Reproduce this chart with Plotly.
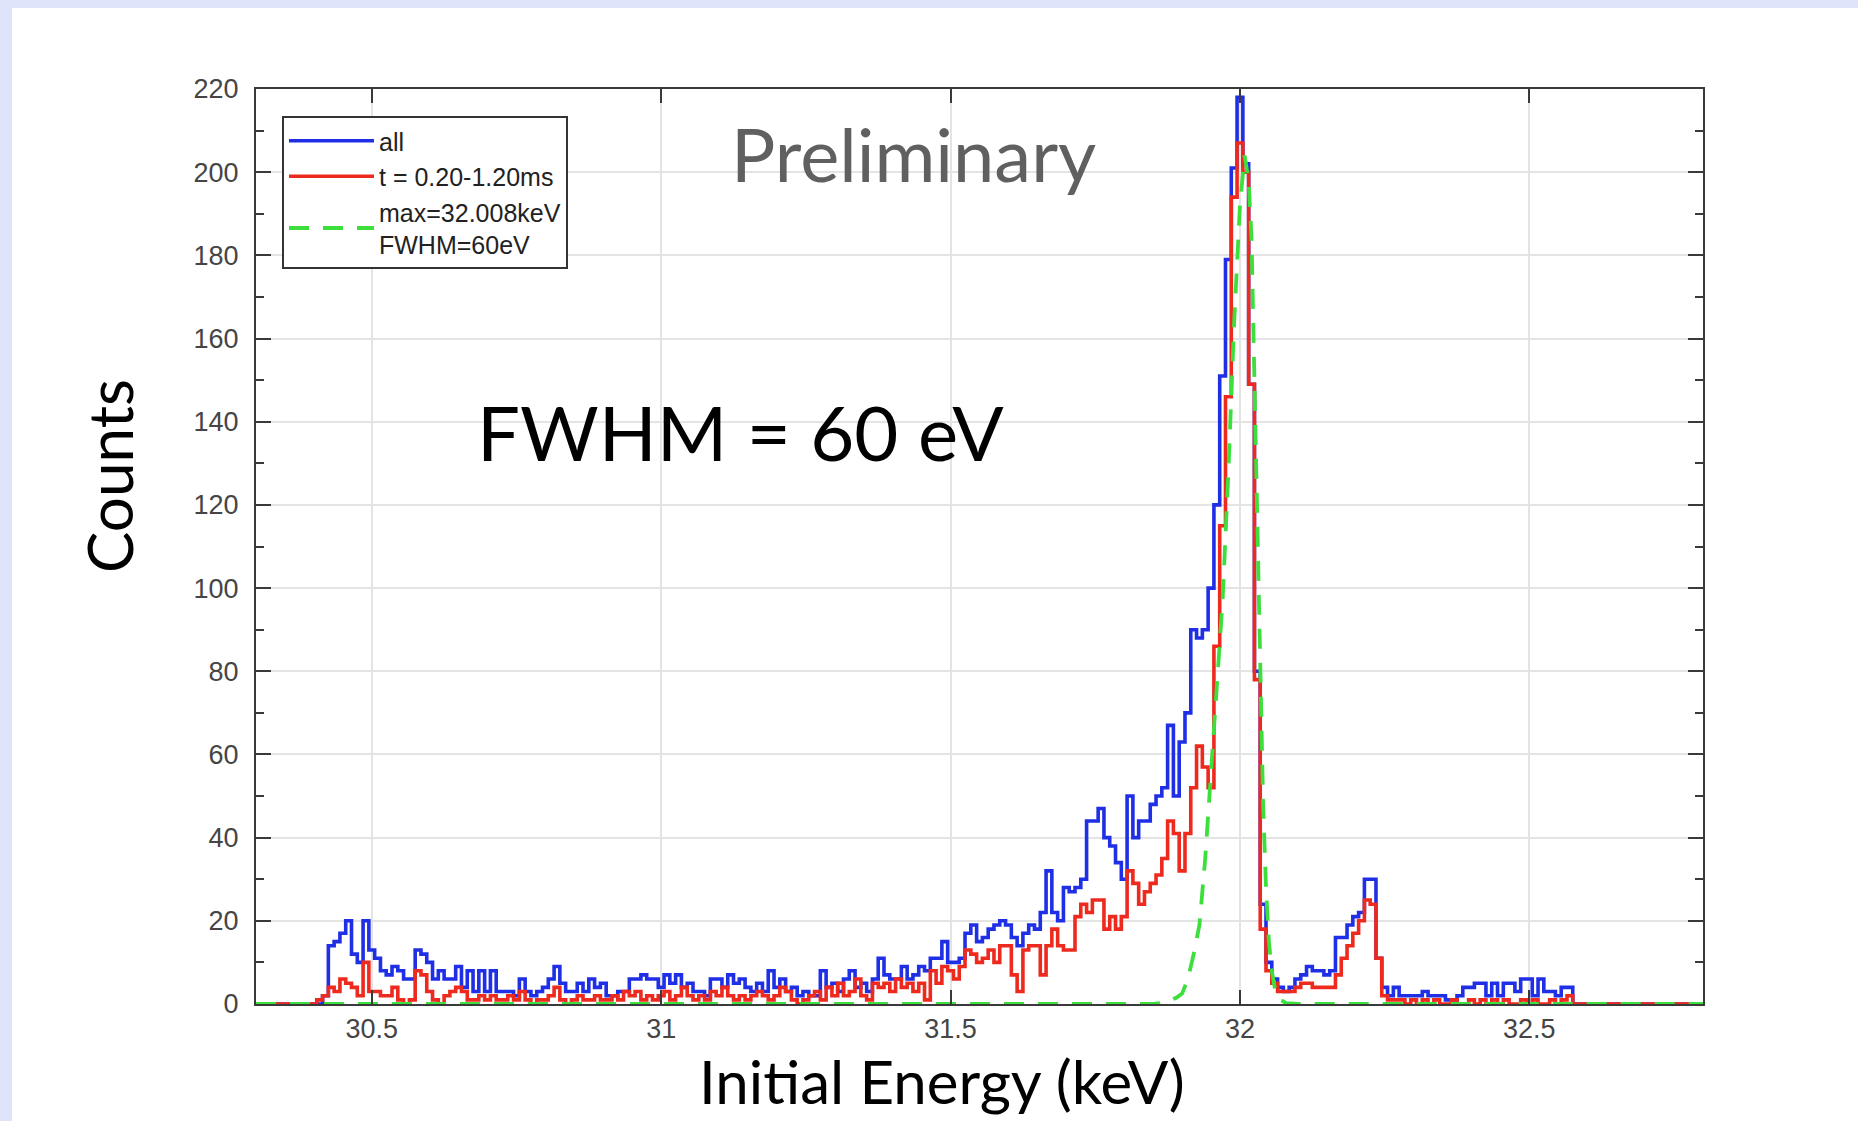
import numpy as np
import plotly.graph_objects as go

# Histogram binning (bin centres start at BIN_START, regular width)
BIN_START = 30.30   # keV
BIN_WIDTH = 0.01    # keV

# Counts per bin, all events
COUNTS_ALL = [
    0, 0, 0, 0, 0, 0, 0, 0, 0, 0, 0, 0,
    2, 14, 15, 17, 20, 12, 10, 20, 13, 11,
    8, 7, 9, 8, 6, 6, 13, 12, 10, 6,
    8, 6, 6, 9, 4, 8, 3, 8, 3, 8,
    3, 3, 3, 2, 6, 3, 2, 3, 4, 6,
    9, 5, 3, 3, 5, 3, 6, 4, 5, 2,
    2, 3, 3, 6, 6, 7, 6, 6, 4, 7,
    5, 7, 4, 5, 3, 3, 2, 6, 6, 4,
    7, 5, 6, 4, 3, 5, 3, 8, 4, 6,
    3, 4, 2, 3, 2, 2, 8, 4, 5, 3,
    6, 8, 4, 5, 3, 6, 11, 7, 6, 6,
    9, 6, 7, 9, 8, 11, 11, 15, 10, 10,
    11, 17, 19, 15, 16, 18, 19, 20, 19, 16,
    14, 17, 19, 18, 22, 32, 22, 20, 28, 27,
    28, 30, 44, 44, 47, 40, 38, 34, 30, 50,
    40, 44, 44, 48, 50, 52, 67, 50, 63, 70,
    90, 88, 90, 100, 120, 151, 179, 201, 218, 202,
    149, 80, 24, 10, 6, 4, 3, 4, 6, 7,
    9, 8, 8, 7, 8, 16, 16, 19, 21, 22,
    30, 30, 11, 4, 2, 4, 2, 2, 2, 2,
    3, 2, 2, 2, 1, 1, 2, 4, 4, 5,
    5, 2, 5, 2, 5, 5, 3, 6, 6, 2,
    6, 3, 3, 2, 4, 4, 0, 0, 0, 0,
    0, 0, 0, 0, 0, 0, 0, 0, 0, 0,
    0, 0, 0, 0, 0, 0, 0, 0, 0,
]

# Counts per bin, events in the t = 0.20-1.20 ms window
COUNTS_WINDOW = [
    0, 0, 0, 0, 0, 0, 0, 0, 0, 0, 0, 1,
    2, 4, 3, 6, 5, 4, 2, 10, 3, 3,
    2, 2, 4, 1, 0, 1, 8, 7, 3, 1,
    0, 2, 3, 4, 3, 1, 1, 2, 1, 2,
    1, 1, 2, 1, 3, 1, 0, 1, 1, 2,
    4, 1, 0, 1, 2, 1, 1, 2, 1, 1,
    2, 1, 3, 2, 3, 1, 2, 1, 2, 3,
    1, 2, 4, 2, 1, 2, 1, 3, 2, 4,
    2, 1, 2, 1, 2, 3, 2, 1, 2, 4,
    3, 1, 0, 1, 2, 3, 1, 4, 2, 5,
    2, 3, 6, 2, 1, 5, 4, 5, 3, 6,
    4, 5, 3, 5, 1, 8, 5, 9, 8, 6,
    9, 13, 12, 10, 11, 13, 10, 14, 14, 7,
    3, 13, 14, 14, 7, 14, 18, 14, 13, 13,
    21, 24, 22, 25, 25, 18, 21, 18, 21, 32,
    29, 24, 27, 29, 31, 35, 44, 41, 32, 41,
    52, 62, 57, 52, 86, 115, 146, 194, 207, 200,
    149, 78, 18, 8, 5, 3, 3, 3, 4, 5,
    5, 4, 4, 4, 4, 7, 11, 14, 17, 20,
    25, 24, 11, 2, 1, 1, 1, 0, 1, 0,
    1, 0, 1, 0, 0, 1, 0, 0, 1, 0,
    1, 0, 1, 0, 1, 0, 0, 1, 0, 1,
    0, 0, 1, 0, 1, 2, 0, 0, 0, 0,
    0, 0, 0, 0, 0, 0, 0, 0, 0, 0,
    0, 0, 0, 0, 0, 0, 0, 0, 0,
]

# Fitted peak curve (max = 32.008 keV, FWHM = 60 eV)
FIT_ENERGY = [30.30, 31.85, 31.87, 31.89, 31.90, 31.91, 31.92, 31.93, 31.94,
              31.95, 31.96, 31.97, 31.98, 31.99, 32.00, 32.008, 32.015,
              32.02, 32.025, 32.03, 32.035, 32.04, 32.045, 32.05, 32.055,
              32.06, 32.07, 32.08, 32.10, 32.80]
FIT_COUNTS = [0, 0, 0.4, 1.5, 2.5, 6, 12, 19, 35,
              55, 76, 97, 128, 164, 192, 204, 198,
              184, 150, 112, 76, 48, 28, 15, 8,
              4, 1, 0.2, 0, 0]

X_TICKS = [30.5, 31, 31.5, 32, 32.5]
X_TICK_LABELS = ["30.5", "31", "31.5", "32", "32.5"]

SERIES_NAMES = ["all", "t = 0.20-1.20ms", "max=32.008keV<br>FWHM=60eV"]

BLUE = "#1f2fe6"
RED = "#ee2a1e"
GREEN = "#3ddf3d"
AXIS = "#3a3a3a"
GRID = "#e4e4e4"

W, H = 1858, 1121
L, R, T, B = 256, 155, 89, 117
PW, PH = W - L - R, H - T - B


def px_x(x):
    return (x - L) / PW


def px_y(y):
    return (H - B - y) / PH


energy = np.round(BIN_START + BIN_WIDTH * np.arange(len(COUNTS_ALL)), 3)

fig = go.Figure()
fig.add_trace(go.Scatter(
    x=energy, y=COUNTS_ALL, mode="lines", name=SERIES_NAMES[0],
    line=dict(color=BLUE, width=3.6, shape="hvh")))
fig.add_trace(go.Scatter(
    x=energy, y=COUNTS_WINDOW, mode="lines", name=SERIES_NAMES[1],
    line=dict(color=RED, width=3.6, shape="hvh")))
fig.add_trace(go.Scatter(
    x=FIT_ENERGY, y=FIT_COUNTS, mode="lines", name=SERIES_NAMES[2],
    line=dict(color=GREEN, width=3.8, dash="20px,14px")))

tick_font = dict(family="Liberation Sans, Arial, sans-serif", size=27, color="#454545")

fig.update_xaxes(
    range=[30.3, 32.8], tickvals=X_TICKS, ticktext=X_TICK_LABELS,
    ticks="inside", ticklen=14, tickwidth=2, tickcolor=AXIS,
    showline=True, linecolor=AXIS, linewidth=2, mirror="ticks",
    showgrid=True, gridcolor=GRID, gridwidth=2, zeroline=False,
    tickfont=tick_font, ticklabelstandoff=0)
fig.update_yaxes(
    range=[0, 220], tick0=0, dtick=20,
    ticks="inside", ticklen=15, tickwidth=2, tickcolor=AXIS,
    minor=dict(dtick=10, ticks="inside", ticklen=8, tickwidth=2,
               tickcolor=AXIS, showgrid=False),
    showline=True, linecolor=AXIS, linewidth=2, mirror="ticks",
    showgrid=True, gridcolor=GRID, gridwidth=2, zeroline=False,
    tickfont=tick_font, ticklabelstandoff=10)

title_font = "Lato, 'Open Sans', sans-serif"

fig.update_layout(
    width=W, height=H,
    margin=dict(l=L, r=R, t=T, b=B, pad=0),
    paper_bgcolor="#e0e4fa", plot_bgcolor="white",
    showlegend=True,
    legend=dict(
        x=px_x(282), y=px_y(116), xanchor="left", yanchor="top",
        bgcolor="white", bordercolor="#333333", borderwidth=2,
        font=dict(family="Liberation Sans, Arial, sans-serif", size=25, color="#222222"),
        tracegroupgap=0, itemwidth=85),
    shapes=[dict(
        type="rect", xref="paper", yref="paper", layer="below",
        x0=px_x(12), x1=px_x(W + 20), y0=px_y(H + 20), y1=px_y(8),
        fillcolor="white", line=dict(width=0))],
    annotations=[
        dict(text="Preliminary", xref="paper", yref="paper",
             x=px_x(913), y=px_y(153), xanchor="center", yanchor="middle",
             showarrow=False, font=dict(family=title_font, size=74, color="#606060")),
        dict(text="FWHM = 60 eV", xref="paper", yref="paper",
             x=px_x(740), y=px_y(431), xanchor="center", yanchor="middle",
             showarrow=False, font=dict(family=title_font, size=76, color="black")),
        dict(text="Initial Energy (keV)", xref="paper", yref="paper",
             x=px_x(942), y=px_y(1081), xanchor="center", yanchor="middle",
             showarrow=False, font=dict(family=title_font, size=60, color="black")),
        dict(text="Counts", xref="paper", yref="paper", textangle=-90,
             x=px_x(109), y=px_y(476), xanchor="center", yanchor="middle",
             showarrow=False, font=dict(family=title_font, size=62, color="black")),
    ],
)

fig.write_html("out.html")
